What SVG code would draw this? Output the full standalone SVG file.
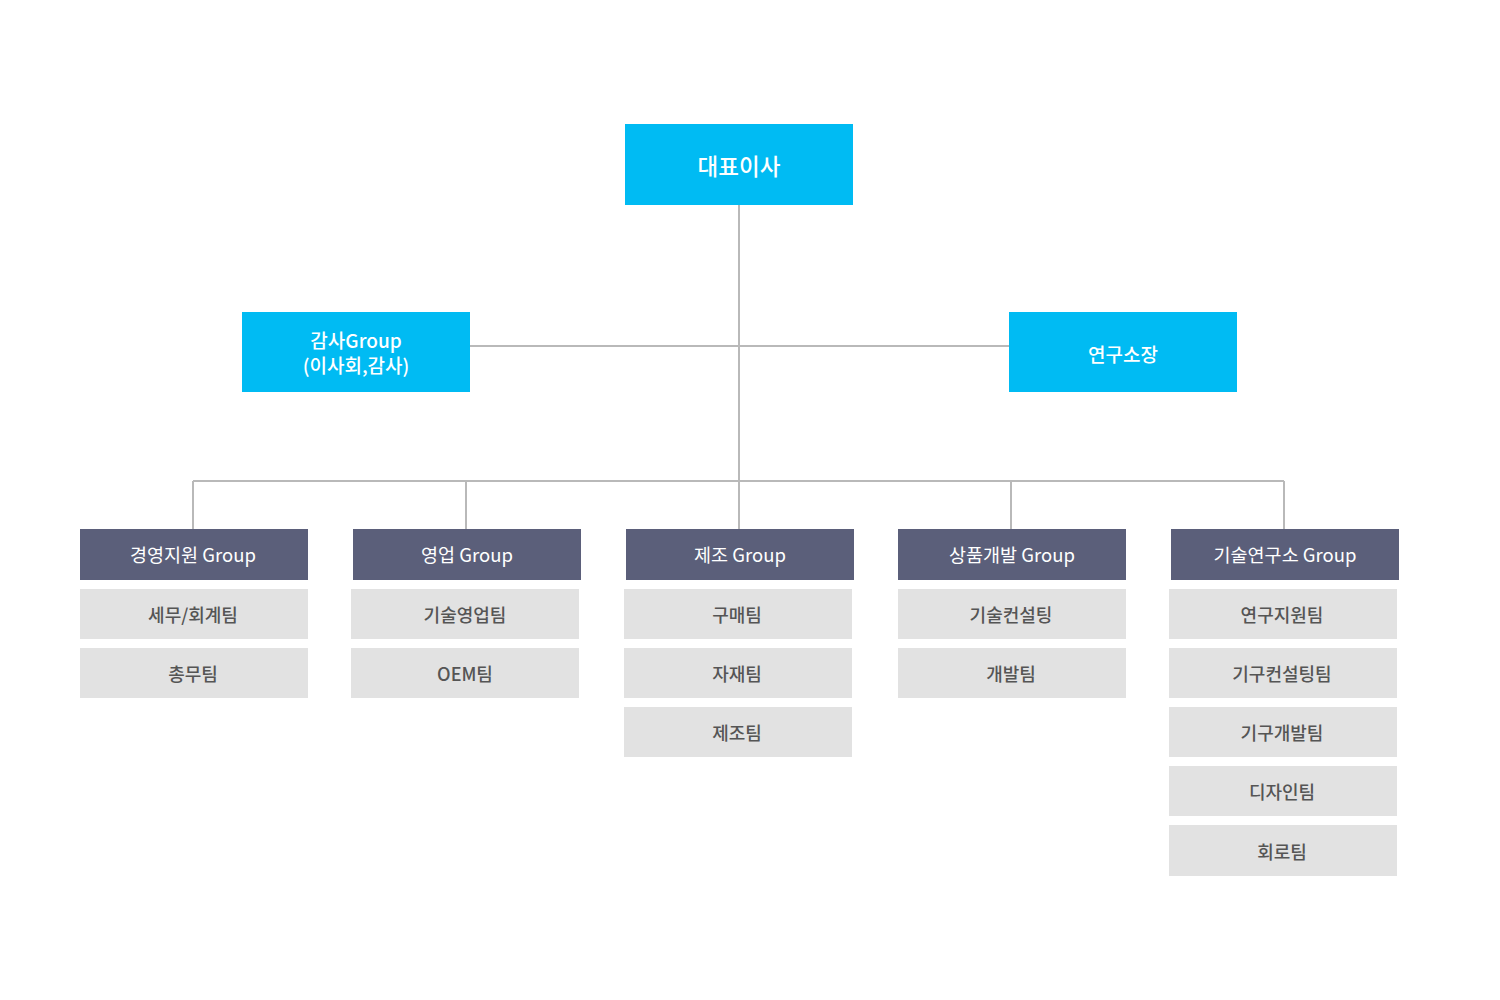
<svg xmlns="http://www.w3.org/2000/svg" width="1500" height="1000" viewBox="0 0 1500 1000">
<style>
text{font-family:"Noto Sans CJK KR","Noto Sans",sans-serif;text-anchor:middle;dominant-baseline:central}
.top{fill:#00bbf3}
.topt{fill:#fff;font-size:22.5px;font-weight:500}
.audt{fill:#fff;font-size:19px;font-weight:500}
.grp{fill:#5b5f7a}
.grpt{fill:#fff;font-size:18.5px}
.sub{fill:#e2e2e2}
.subt{fill:#555;font-size:18px;font-weight:500}
.ln{stroke:#b9b9b9;stroke-width:2;fill:none}
</style>
<rect width="1500" height="1000" fill="#fff"/>
<g id="connectors">
<path class="ln" d="M739 205V529M470 346H1009M193 481H1284M193 481V529M466 481V529M1011 481V529M1284 481V529"/>
</g>
<g id="ceo"><rect class="top" x="625" y="124" width="228" height="81"/><text class="topt" x="739" y="165">대표이사</text></g>
<g id="audit"><rect class="top" x="242" y="312" width="228" height="80"/><text class="audt" x="356" y="339">감사Group</text><text class="audt" x="356" y="364">(이사회,감사)</text></g>
<g id="lab"><rect class="top" x="1009" y="312" width="228" height="80"/><text class="audt" x="1123" y="353">연구소장</text></g>

<g id="g1"><rect class="grp" x="80" y="529" width="228" height="51"/><text class="grpt" x="193" y="554">경영지원 Group</text></g>
<g id="g1s1"><rect class="sub" x="80" y="589" width="228" height="50"/><text class="subt" x="193" y="614">세무/회계팀</text></g>
<g id="g1s2"><rect class="sub" x="80" y="648" width="228" height="50"/><text class="subt" x="193" y="673">총무팀</text></g>

<g id="g2"><rect class="grp" x="353" y="529" width="228" height="51"/><text class="grpt" x="467" y="554">영업 Group</text></g>
<g id="g2s1"><rect class="sub" x="351" y="589" width="228" height="50"/><text class="subt" x="465" y="614">기술영업팀</text></g>
<g id="g2s2"><rect class="sub" x="351" y="648" width="228" height="50"/><text class="subt" x="465" y="673">OEM팀</text></g>

<g id="g3"><rect class="grp" x="626" y="529" width="228" height="51"/><text class="grpt" x="740" y="554">제조 Group</text></g>
<g id="g3s1"><rect class="sub" x="624" y="589" width="228" height="50"/><text class="subt" x="737" y="614">구매팀</text></g>
<g id="g3s2"><rect class="sub" x="624" y="648" width="228" height="50"/><text class="subt" x="737" y="673">자재팀</text></g>
<g id="g3s3"><rect class="sub" x="624" y="707" width="228" height="50"/><text class="subt" x="737" y="732">제조팀</text></g>

<g id="g4"><rect class="grp" x="898" y="529" width="228" height="51"/><text class="grpt" x="1012" y="554">상품개발 Group</text></g>
<g id="g4s1"><rect class="sub" x="898" y="589" width="228" height="50"/><text class="subt" x="1011" y="614">기술컨설팅</text></g>
<g id="g4s2"><rect class="sub" x="898" y="648" width="228" height="50"/><text class="subt" x="1011" y="673">개발팀</text></g>

<g id="g5"><rect class="grp" x="1171" y="529" width="228" height="51"/><text class="grpt" x="1285" y="554">기술연구소 Group</text></g>
<g id="g5s1"><rect class="sub" x="1169" y="589" width="228" height="50"/><text class="subt" x="1282" y="614">연구지원팀</text></g>
<g id="g5s2"><rect class="sub" x="1169" y="648" width="228" height="50"/><text class="subt" x="1282" y="673">기구컨설팅팀</text></g>
<g id="g5s3"><rect class="sub" x="1169" y="707" width="228" height="50"/><text class="subt" x="1282" y="732">기구개발팀</text></g>
<g id="g5s4"><rect class="sub" x="1169" y="766" width="228" height="50"/><text class="subt" x="1282" y="791">디자인팀</text></g>
<g id="g5s5"><rect class="sub" x="1169" y="825" width="228" height="51"/><text class="subt" x="1282" y="851">회로팀</text></g>
</svg>
